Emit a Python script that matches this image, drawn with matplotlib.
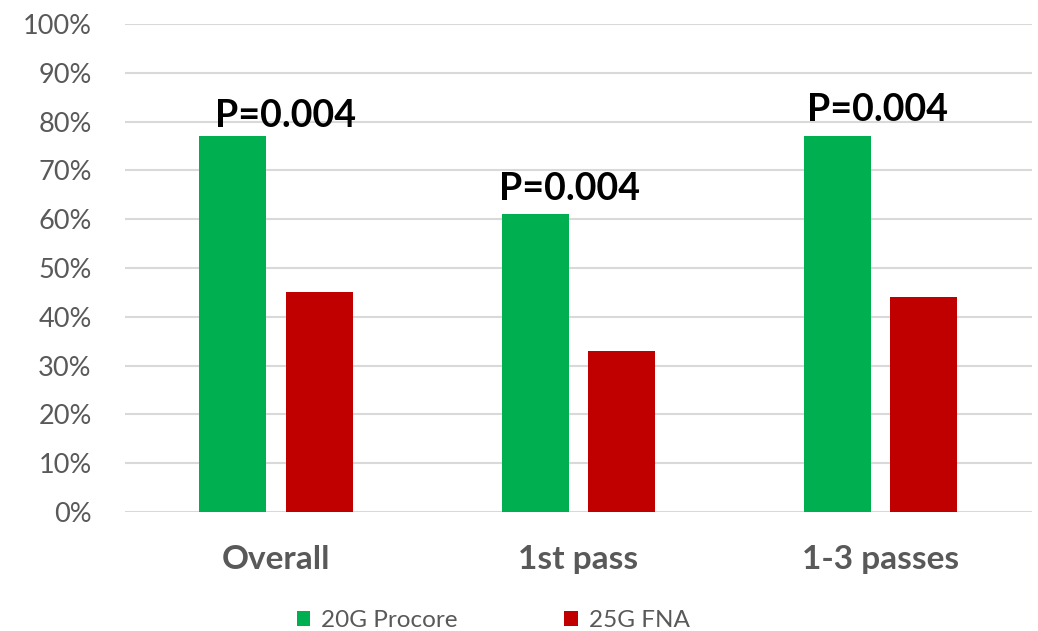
import matplotlib
matplotlib.use("Agg")
import matplotlib.pyplot as plt
import numpy as np
from matplotlib.ticker import PercentFormatter

plt.rcParams['font.family'] = ['Lato', 'DejaVu Sans']

categories = ['Overall', '1st pass', '1-3 passes']
procore = [77, 61, 77]
fna = [45, 33, 44]
series_names = ['20G Procore', '25G FNA']
p_labels = ['P=0.004', 'P=0.004', 'P=0.004']

green = '#00b050'
red = '#c00000'
grey_txt = '#595959'

fig = plt.figure(figsize=(10.38, 6.31), dpi=100)
ax = fig.add_axes([0.1204, 0.1886, 0.8736, 0.7734])

x = np.arange(len(categories))
w = 0.222
off = 0.143
ax.bar(x - off, procore, w, color=green, label=series_names[0], zorder=3)
ax.bar(x + off, fna, w, color=red, label=series_names[1], zorder=3)

# p-value labels above the procore bars
lbl_dx = [0.03, -0.03, -0.01]
lbl_dy = [0.6, 1.8, 1.8]
for i, t in enumerate(p_labels):
    ax.text(x[i] + lbl_dx[i], procore[i] + lbl_dy[i], t, ha='center', va='bottom',
            fontsize=27, fontweight='bold', color='black')

ax.set_xlim(-0.5, 2.5)
ax.set_ylim(0, 100)
ax.set_yticks(np.arange(0, 101, 10))
ax.yaxis.set_major_formatter(PercentFormatter(decimals=0))
ax.set_xticks(x)
ax.set_xticklabels(categories, fontsize=24, fontweight='bold', color=grey_txt)
ax.tick_params(axis='y', labelsize=19.5, labelcolor=grey_txt, length=0, pad=24)
ax.tick_params(axis='x', length=0, pad=24)
ax.grid(axis='y', color='#d9d9d9', linewidth=1.5, zorder=0)
for s in ax.spines.values():
    s.set_visible(False)

fig.legend(loc='center', bbox_to_anchor=(0.475, 0.016), ncol=2, frameon=False,
           fontsize=17.5, handlelength=0.55, handleheight=0.55, handletextpad=0.45,
           columnspacing=4.4, labelcolor=grey_txt)

fig.savefig('out.png', dpi=100)
